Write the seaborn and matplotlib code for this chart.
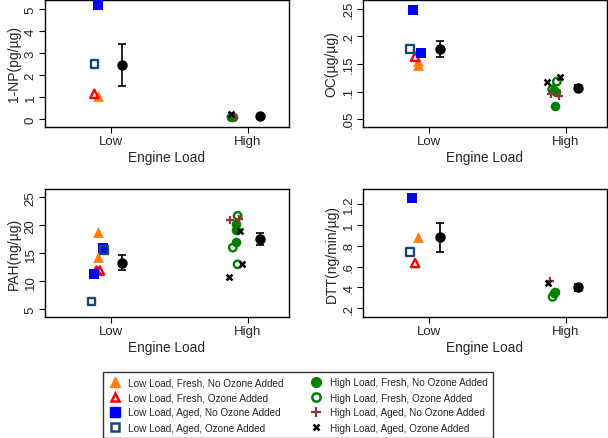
import numpy as np
import pandas as pd
import matplotlib
matplotlib.use("Agg")
import matplotlib.pyplot as plt
import seaborn as sns
from matplotlib.lines import Line2D

sns.set_style("white")
plt.rcParams['font.family'] = ['Liberation Sans', 'DejaVu Sans']

# groups / legend entries
groups = ["Low Load, Fresh, No Ozone Added", "Low Load, Fresh, Ozone Added",
          "Low Load, Aged, No Ozone Added", "Low Load, Aged, Ozone Added",
          "High Load, Fresh, No Ozone Added", "High Load, Fresh, Ozone Added",
          "High Load, Aged, No Ozone Added", "High Load, Aged, Ozone Added"]
load_of_group = [1, 1, 1, 1, 2, 2, 2, 2]

# 1-NP
np_grp = [0, 1, 2, 3, 4, 5, 6, 7]
np_val = [1.05, 1.15, 5.2, 2.5, 0.1, 0.08, 0.1, 0.25]
np_dx = [-0.09, -0.12, -0.09, -0.12, -0.11, -0.12, -0.1, -0.12]
np_mean = [2.47, 0.15]
np_err = [0.97, 0.05]

# OC
oc_grp = [0, 0, 1, 2, 2, 3, 4, 4, 4, 5, 5, 6, 6, 7, 7]
oc_val = [0.155, 0.148, 0.163, 0.248, 0.170, 0.177, 0.103, 0.100, 0.074,
          0.118, 0.104, 0.095, 0.092, 0.118, 0.127]
oc_dx = [-0.08, -0.08, -0.1, -0.115, -0.058, -0.136, -0.09, -0.07, -0.08,
         -0.066, -0.1, -0.11, -0.05, -0.14, -0.04]
oc_mean = [0.177, 0.107]
oc_err = [0.015, 0.004]

# PAH
pah_grp = [0, 0, 1, 1, 2, 2, 3, 3, 4, 4, 4, 5, 5, 5, 6, 6, 7, 7, 7]
pah_val = [18.8, 14.4, 11.9, 11.9, 11.3, 16.0, 15.6, 6.3, 20.3, 19.2, 17.0,
           21.7, 16.0, 13.0, 21.0, 21.1, 18.9, 10.8, 13.0]
pah_dx = [-0.09, -0.09, -0.105, -0.08, -0.12, -0.06, -0.05, -0.14, -0.09, -0.09, -0.09,
          -0.075, -0.11, -0.075, -0.13, -0.065, -0.06, -0.137, -0.045]
pah_mean = [13.3, 17.5]
pah_err = [1.35, 1.05]

# DTT
dtt_grp = [0, 1, 2, 3, 4, 4, 5, 6, 7]
dtt_val = [0.88, 0.635, 1.26, 0.74, 0.36, 0.345, 0.31, 0.46, 0.44]
dtt_dx = [-0.08, -0.1, -0.12, -0.136, -0.078, -0.09, -0.097, -0.115, -0.133]
dtt_mean = [0.88, 0.40]
dtt_err = [0.14, 0.03]

mean_dx = 0.085

styles = [
    dict(marker="^", color="#ff7f0e", fill=True),
    dict(marker="^", color="#ff0000", fill=False),
    dict(marker="s", color="#0000ff", fill=True),
    dict(marker="s", color="#1a476f", fill=False),
    dict(marker="o", color="#008000", fill=True),
    dict(marker="o", color="#008000", fill=False),
    dict(marker="+", color="#90353b", fill=True),
    dict(marker="x", color="#000000", fill=True),
]

W, H = 608, 439
fig = plt.figure(figsize=(W / 100, H / 100), dpi=100)

def box(l, t, r, b):
    return [l / W, 1 - b / H, (r - l) / W, (b - t) / H]

panels = [
    (box(45, 1, 289, 128), np_grp, np_val, np_dx, np_mean, np_err,
     "1-NP(pg/\u00b5g)", (-0.36, 5.42), [0, 1, 2, 3, 4, 5], ["0", "1", "2", "3", "4", "5"]),
    (box(363, 1, 607, 128), oc_grp, oc_val, oc_dx, oc_mean, oc_err,
     "OC(\u00b5g/\u00b5g)", (0.0356, 0.266), [0.05, 0.1, 0.15, 0.2, 0.25], [".05", ".1", ".15", ".2", ".25"]),
    (box(45, 190, 289, 318), pah_grp, pah_val, pah_dx, pah_mean, pah_err,
     "PAH(ng/\u00b5g)", (3.57, 26.5), [5, 10, 15, 20, 25], ["5", "10", "15", "20", "25"]),
    (box(363, 190, 607, 318), dtt_grp, dtt_val, dtt_dx, dtt_mean, dtt_err,
     "DTT(ng/min/\u00b5g)", (0.117, 1.344), [0.2, 0.4, 0.6, 0.8, 1.0, 1.2], [".2", ".4", ".6", ".8", "1", "1.2"]),
]

sizes = {"^": 60, "s": 48, "o": 48}

for rect, grp, val, dx, mean, err, ylab, ylim, yt, ytl in panels:
    ax = fig.add_axes(rect)
    df = pd.DataFrame({"grp": grp, "val": val, "dx": dx})
    df["x"] = [load_of_group[g] for g in df["grp"]] + df["dx"]
    for g, sub in df.groupby("grp"):
        st = styles[g]
        if st["marker"] == "x":
            sns.scatterplot(data=sub, x="x", y="val", ax=ax, marker="x",
                            color=st["color"], s=18, linewidth=1.8, zorder=3)
        elif st["marker"] == "+":
            sns.scatterplot(data=sub, x="x", y="val", ax=ax, marker="+",
                            color=st["color"], s=40, linewidth=1.6, zorder=3)
        elif st["fill"]:
            sns.scatterplot(data=sub, x="x", y="val", ax=ax, marker=st["marker"],
                            color=st["color"], s=sizes[st["marker"]], linewidth=0, zorder=3)
        else:
            sns.scatterplot(data=sub, x="x", y="val", ax=ax, marker=st["marker"],
                            facecolor="none", edgecolor=st["color"],
                            s=sizes[st["marker"]] * 0.6, linewidth=1.7, zorder=3)
    ax.errorbar(np.array([1, 2]) + mean_dx, mean, yerr=err, fmt="o", color="black",
                ms=6.5, capsize=3, elinewidth=1.2, capthick=1.2, zorder=4)
    ax.set_xlim(0.52, 2.3)
    ax.set_ylim(*ylim)
    ax.set_xticks([1, 2])
    ax.set_xticklabels(["Low", "High"], fontsize=9.5)
    ax.set_yticks(yt)
    ax.set_yticklabels(ytl, fontsize=9.5, rotation=90, va="center")
    ax.set_xlabel("Engine Load", fontsize=9.8, labelpad=2)
    ax.set_ylabel(ylab, fontsize=10, labelpad=3)
    ax.tick_params(axis="both", direction="out", length=4, width=0.8, color="black",
                   left=True, bottom=True, pad=2)
    for sp in ax.spines.values():
        sp.set_color("black")
        sp.set_linewidth(1.0)

handles = []
for st in styles:
    if st["marker"] == "x":
        h = Line2D([], [], ls="none", marker="x", color=st["color"], ms=4.5, mew=1.8)
    elif st["marker"] == "+":
        h = Line2D([], [], ls="none", marker="+", color=st["color"], ms=6.5, mew=1.6)
    elif st["fill"]:
        h = Line2D([], [], ls="none", marker=st["marker"], color=st["color"], ms=7)
    else:
        h = Line2D([], [], ls="none", marker=st["marker"], markerfacecolor="none",
                   markeredgecolor=st["color"], ms=6, mew=1.8)
    handles.append(h)

leg = fig.legend(handles, groups, loc="upper left",
                 bbox_to_anchor=(103 / W, 1 - 373 / H), ncol=2, fontsize=7.2,
                 frameon=True, fancybox=False, edgecolor="black", handletextpad=0.8,
                 columnspacing=2.6, labelspacing=0.5, borderpad=0.55, handlelength=1.2,
                 borderaxespad=0)
leg.get_frame().set_linewidth(1.0)

fig.savefig("out.png", dpi=100)
